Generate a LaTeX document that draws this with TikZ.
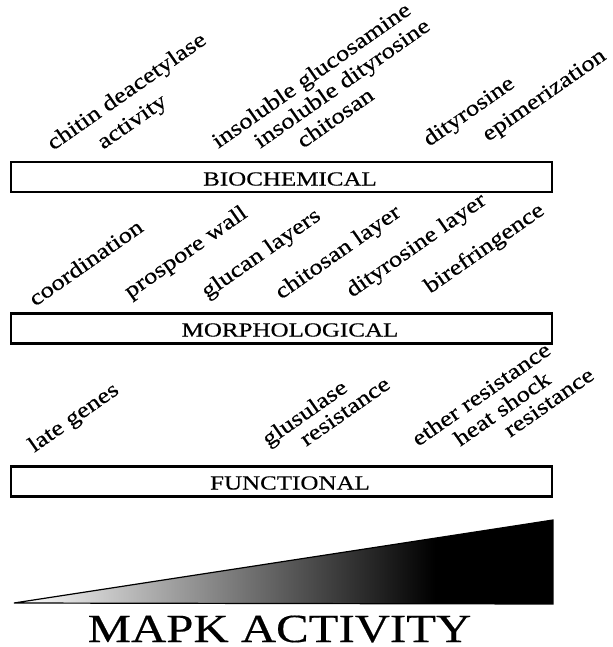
\documentclass[tikz,border=0pt]{standalone}
\usepackage{fontspec}
\setmainfont{Liberation Serif}[FakeBold=0.35]
\begin{document}
\begin{tikzpicture}[x=0.75pt,y=0.75pt,yscale=-1,xscale=1,
  levelbox/.style={draw, line width=1.6pt, minimum width=405.75pt, minimum height=22.5pt, inner sep=0pt},
  levelname/.style={inner sep=0pt, xscale=1.25, font=\fontsize{15}{17}\selectfont},
  readout/.style={anchor=base west, inner sep=0pt, rotate=35, xscale=1.2, font=\fontsize{16.5}{19}\selectfont}]
\useasboundingbox (0,0) rectangle (613,647);

% Level boxes
\node [levelbox] (bio) at (281.5,177) {};
\node [levelbox] (morph) at (281.5,328.5) {};
\node [levelbox] (func) at (281.5,481.5) {};
\node [levelname] (biotxt) at (290,179) {BIOCHEMICAL};
\node [levelname] (morphtxt) at (290,330) {MORPHOLOGICAL};
\node [levelname] (functxt) at (290,483) {FUNCTIONAL};

% Biochemical readouts
\node [readout] (cda) at (53,151) {chitin deacetylase};
\node [readout] (act) at (103,150) {activity};
\node [readout] (insglc) at (218,149) {insoluble glucosamine};
\node [readout] (insdit) at (260,149) {insoluble dityrosine};
\node [readout] (chitosan) at (303,149) {chitosan};
\node [readout] (dit) at (429,147) {dityrosine};
\node [readout] (epim) at (488,142) {epimerization};

% Morphological readouts
\node [readout] (coord) at (35,307) {coordination};
\node [readout] (prosp) at (130,299) {prospore wall};
\node [readout] (glucan) at (207,299) {glucan layers};
\node [readout] (chitlay) at (281,300) {chitosan layer};
\node [readout] (ditlay) at (352,298) {dityrosine layer};
\node [readout] (biref) at (430,294) {birefringence};

% Functional readouts
\node [readout] (late) at (34,453) {late genes};
\node [readout] (glus) at (268,447) {glusulase};
\node [readout] (glusres) at (306,447) {resistance};
\node [readout] (ether) at (418,447) {ether resistance};
\node [readout] (heat) at (460,447) {heat shock};
\node [readout] (heatres) at (510,438) {resistance};

% MAPK wedge
\coordinate (tip) at (14,603);
\coordinate (top) at (553,520);
\coordinate (bot) at (553,604);
\begin{scope}
\clip (tip) -- (top) -- (bot) -- cycle;
\shade [left color=white, right color=black] (14,520) rectangle (435,604);
\fill [black] (435,520) rectangle (553,604);
\end{scope}
\draw [line width=0.9pt, line join=miter] (tip) -- (top) -- (bot) -- cycle;

% Text Node
\node [font=\fontsize{30}{34}\selectfont, anchor=base, inner sep=0pt, xscale=1.22] (mapk) at (279.5,642) {MAPK ACTIVITY};

\end{tikzpicture}
\end{document}
